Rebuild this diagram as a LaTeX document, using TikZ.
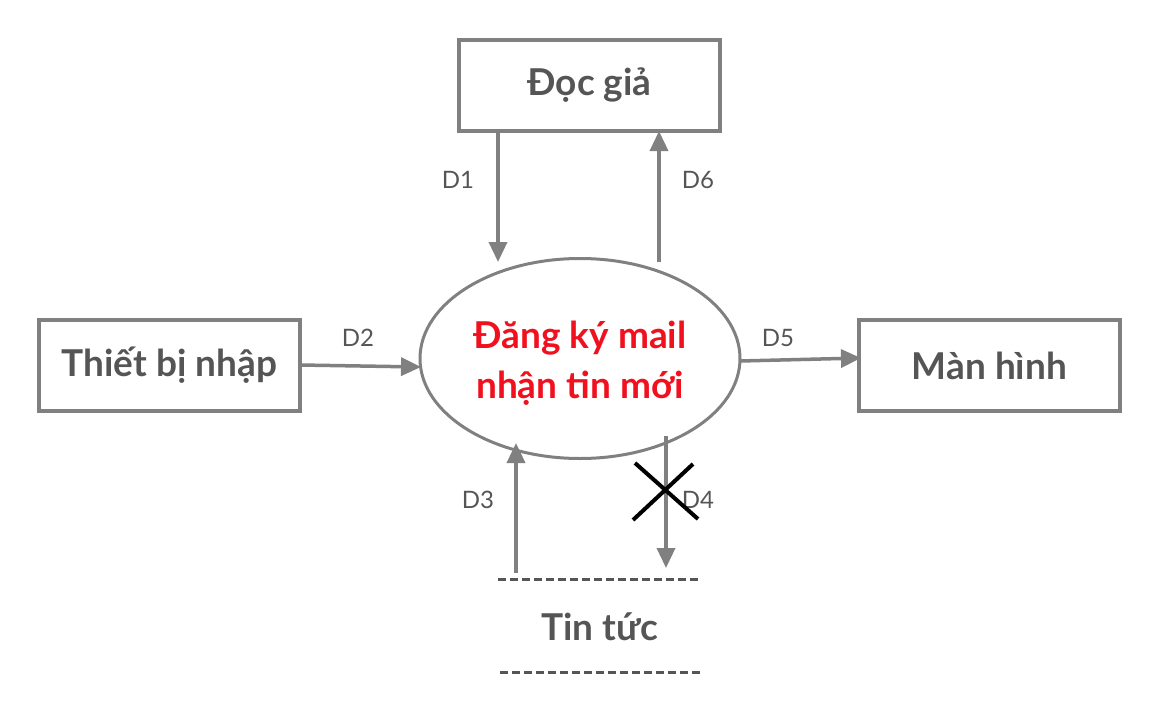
\documentclass[tikz,border=0pt]{standalone}
\usepackage{fontspec}
\setmainfont{Lato}
\usetikzlibrary{arrows.meta,shapes.geometric}
\definecolor{linegray}{HTML}{808080}
\definecolor{txtgray}{HTML}{555555}
\definecolor{procred}{HTML}{F0101E}
\begin{document}
\begin{tikzpicture}[x=1pt,y=-1pt,
  ent/.style={draw=linegray,line width=3.5pt,minimum width=261pt,minimum height=91pt,inner sep=0pt,
    text=txtgray,font=\fontsize{37}{42}\selectfont\bfseries},
  proc/.style={ellipse,draw=linegray,line width=3pt,minimum width=320pt,minimum height=200pt,inner sep=0pt},
  proctext/.style={text=procred,align=center,font=\fontsize{37}{50}\selectfont\bfseries},
  arr/.style={draw=linegray,line width=3.5pt,-{Triangle[width=18pt,length=20pt]}},
  lbl/.style={text=txtgray,font=\fontsize{24}{28}\selectfont},
  storetext/.style={text=txtgray,font=\fontsize{37}{42}\selectfont\bfseries},
  storeline/.style={txtgray,line width=3pt,dash pattern=on 8pt off 4pt}]
\useasboundingbox (0,0) rectangle (1160,712);
\node[ent] (dg) at (589.5,85.5) {Đọc giả};
\node[ent] (tb) at (169.5,365.5) {Thiết bị nhập};
\node[ent] (mh) at (989.5,365.5) {Màn hình};
\node[proc] (p) at (580,358.5) {};
\node[proctext] (pt) at (580,363) {Đăng ký mail\\nhận tin mới};
\node[storetext] (tt) at (600,627) {Tin tức};
% coordinates
\coordinate (d1s) at (498,131);
\coordinate (d1e) at (498,262);
\coordinate (d6s) at (659,262);
\coordinate (d6e) at (659,131);
\coordinate (d2s) at (300,365);
\coordinate (d2e) at (421,367);
\coordinate (d5s) at (740,361);
\coordinate (d5e) at (861,358);
\coordinate (d3s) at (516,573);
\coordinate (d3e) at (516,443);
\coordinate (d4s) at (666,436);
\coordinate (d4e) at (666,568);
\coordinate (ta) at (498,579);
\coordinate (tb2) at (700,579);
\coordinate (ba) at (500,672);
\coordinate (bb) at (702,672);
\draw[arr] (d1s) -- (d1e);
\draw[arr] (d6s) -- (d6e);
\draw[arr] (d2s) -- (d2e);
\draw[arr] (d5s) -- (d5e);
\draw[arr] (d3s) -- (d3e);
\draw[arr] (d4s) -- (d4e);
\draw[storeline] (ta) -- (tb2);
\draw[storeline] (ba) -- (bb);
\node[lbl] (l1) at (458,180) {D1};
\node[lbl] (l6) at (698,180) {D6};
\node[lbl] (l2) at (358,338) {D2};
\node[lbl] (l5) at (778,338) {D5};
\node[lbl] (l3) at (478,500) {D3};
\node[lbl] (l4) at (698,500) {D4};
\coordinate (x1) at (635,463);
\coordinate (x2) at (698,519);
\coordinate (x3) at (693,464);
\coordinate (x4) at (633,520);
\draw[black,line width=4pt] (x1) -- (x2);
\draw[black,line width=4pt] (x3) -- (x4);
\end{tikzpicture}
\end{document}
